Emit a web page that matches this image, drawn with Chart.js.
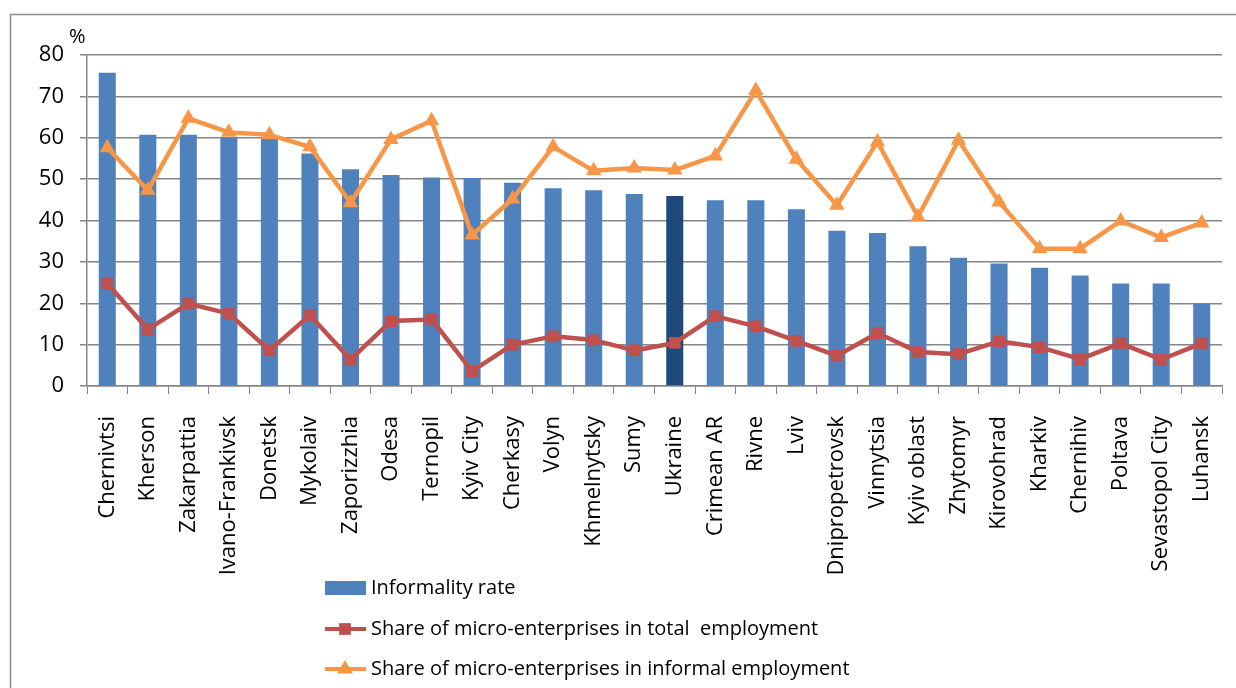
<!DOCTYPE html>
<html>
<head>
<meta charset="utf-8">
<script src="https://cdn.jsdelivr.net/npm/chart.js@4.4.1/dist/chart.umd.min.js"></script>
<style>
  html, body { margin: 0; padding: 0; background: #fff; }
  #wrap { position: relative; width: 1236px; height: 688px; }
</style>
</head>
<body>
<div id="wrap"><canvas id="chart" width="1236" height="688"></canvas></div>
<script>
// data (percent)
const regions = ["Chernivtsi", "Kherson", "Zakarpattia", "Ivano-Frankivsk", "Donetsk", "Mykolaiv",
    "Zaporizzhia", "Odesa", "Ternopil", "Kyiv City", "Cherkasy", "Volyn", "Khmelnytsky", "Sumy",
    "Ukraine", "Crimean AR", "Rivne", "Lviv", "Dnipropetrovsk", "Vinnytsia", "Kyiv oblast",
    "Zhytomyr", "Kirovohrad", "Kharkiv", "Chernihiv", "Poltava", "Sevastopol City", "Luhansk"];
const informalityRate = [75.7, 60.7, 60.7, 60.0, 59.7, 56.2, 52.4, 51.0, 50.4, 50.3, 49.1, 47.8,
    47.3, 46.4, 45.9, 44.9, 44.9, 42.7, 37.5, 37.0, 33.8, 31.0, 29.6, 28.6, 26.7, 24.8, 24.8, 19.9];
const microTotal = [24.8, 13.7, 19.9, 17.5, 8.6, 17.1, 6.4, 15.7, 16.1, 3.6, 10.0, 12.0,
    11.1, 8.6, 10.4, 16.9, 14.4, 10.9, 7.3, 12.8, 8.2, 7.7, 10.8, 9.4, 6.5, 10.3, 6.4, 10.3];
const microInformal = [57.6, 47.3, 64.7, 61.3, 60.7, 57.8, 44.3, 59.6, 64.1, 36.5, 45.2, 57.8,
    52.0, 52.7, 52.2, 55.6, 71.4, 54.8, 43.7, 59.0, 40.9, 59.4, 44.5, 33.2, 33.2, 39.9, 35.9, 39.4];
const yMin = 0;
const yMax = 80;
const yStep = 10;
const seriesNames = ["Informality rate",
    "Share of micro-enterprises in total  employment",
    "Share of micro-enterprises in informal employment"];
const highlight = "Ukraine";

const fontFamily = "'Open Sans', 'Liberation Sans', sans-serif";
const gridColor = "#868686";
const barColor = "#4f81bd";
const barDark = "#1f497d";
const redColor = "#c0504d";
const orangeColor = "#f79646";

function drawMarker(ctx, style, color, x, y, r) {
    ctx.fillStyle = color;
    ctx.beginPath();
    if (style === "rect") {
        const s = Math.SQRT1_2 * r;
        ctx.rect(x - s, y - s, 2 * s, 2 * s);
    } else {
        ctx.moveTo(x, y - r);
        ctx.lineTo(x + r * 0.866, y + r * 0.5);
        ctx.lineTo(x - r * 0.866, y + r * 0.5);
        ctx.closePath();
    }
    ctx.fill();
}

const framePlugin = {
    id: "frame",
    beforeDraw(chart) {
        const ctx = chart.ctx;
        ctx.save();
        ctx.fillStyle = "#fff";
        ctx.fillRect(0, 0, chart.width, chart.height);
        ctx.strokeStyle = "#8c8c8c";
        ctx.lineWidth = 1.5;
        ctx.beginPath();
        ctx.moveTo(10.5, chart.height);
        ctx.lineTo(10.5, 14.5);
        ctx.lineTo(chart.width, 14.5);
        ctx.stroke();
        ctx.restore();
    },
    afterDraw(chart) {
        const ctx = chart.ctx;
        ctx.save();
        ctx.fillStyle = "#000";
        ctx.font = "20px " + fontFamily;
        ctx.textBaseline = "alphabetic";
        ctx.fillText("%", 69, 43);

        // legend, stacked vertically under the axis labels
        const legendX = 325;
        const legendY = [588, 629, 669];
        ctx.font = "20px " + fontFamily;
        ctx.textBaseline = "middle";
        chart.data.datasets.forEach((ds, i) => {
            const y = legendY[i];
            if (ds.type === "bar") {
                ctx.fillStyle = barColor;
                ctx.fillRect(legendX, y - 7, 41, 14);
            } else {
                ctx.strokeStyle = ds.borderColor;
                ctx.lineWidth = 4;
                ctx.beginPath();
                ctx.moveTo(legendX, y);
                ctx.lineTo(legendX + 41, y);
                ctx.stroke();
                drawMarker(ctx, ds.pointStyle, ds.borderColor, legendX + 20, y, ds.pointRadius);
            }
            ctx.fillStyle = "#000";
            ctx.fillText(ds.label, legendX + 46, y);
        });
        ctx.restore();
    }
};

const chart = new Chart(document.getElementById("chart"), {
    type: "bar",
    data: {
        labels: regions,
        datasets: [{
            type: "bar",
            label: seriesNames[0],
            data: informalityRate,
            backgroundColor: regions.map(r => r === highlight ? barDark : barColor),
            categoryPercentage: 1,
            barPercentage: 0.42,
            order: 3
        }, {
            type: "line",
            label: seriesNames[1],
            data: microTotal,
            borderColor: redColor,
            backgroundColor: redColor,
            borderWidth: 4.5,
            tension: 0,
            borderJoinStyle: "round",
            pointStyle: "rect",
            pointRadius: 8.3,
            pointBorderWidth: 0,
            order: 2
        }, {
            type: "line",
            label: seriesNames[2],
            data: microInformal,
            borderColor: orangeColor,
            backgroundColor: orangeColor,
            borderWidth: 4.5,
            tension: 0,
            borderJoinStyle: "round",
            pointStyle: "triangle",
            pointRadius: 9,
            pointBorderWidth: 0,
            order: 1
        }]
    },
    options: {
        responsive: false,
        animation: false,
        devicePixelRatio: 1,
        layout: { padding: { left: 20, top: 55, right: 14, bottom: 100 } },
        plugins: {
            legend: { display: false },
            tooltip: { enabled: false }
        },
        scales: {
            x: {
                offset: true,
                grid: {
                    offset: true,
                    drawOnChartArea: false,
                    tickLength: 8,
                    color: gridColor,
                    lineWidth: 1
                },
                border: { color: gridColor, width: 1.5 },
                ticks: {
                    autoSkip: false,
                    maxRotation: 90,
                    minRotation: 90,
                    padding: 22,
                    color: "#000",
                    font: { family: fontFamily, size: 22 }
                },
                afterFit(scale) {
                    scale.height = 202;
                    scale.paddingLeft = 0;
                    scale.paddingRight = 0;
                }
            },
            y: {
                min: yMin,
                max: yMax,
                grid: { color: gridColor, lineWidth: 1.5, tickLength: 7 },
                border: { color: gridColor, width: 1.5 },
                ticks: {
                    stepSize: yStep,
                    padding: 16,
                    color: "#000",
                    font: { family: fontFamily, size: 22 }
                },
                afterFit(scale) { scale.width = 67; }
            }
        }
    },
    plugins: [framePlugin]
});
</script>
</body>
</html>
